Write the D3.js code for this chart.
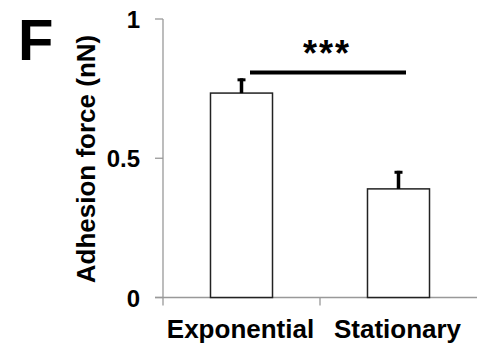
<!DOCTYPE html>
<html>
<head>
<meta charset="utf-8">
<script src="https://cdn.jsdelivr.net/npm/d3@7"></script>
<style>
  body { margin: 0; background: #fff; }
  text { font-family: Arial, "Liberation Sans", sans-serif; font-weight: bold; fill: #000; }
</style>
</head>
<body>
<div id="chart"></div>
<script>
var categories = ['Exponential', 'Stationary'];
var values = [0.734, 0.39];
var errors = [0.053, 0.065];
var yTicks = [0, 0.5, 1];
var yTickLabels = ['0', '0.5', '1'];

var width = 477, height = 347;
var margin = {top: 19, right: 0, bottom: 49, left: 163};

var svg = d3.select('#chart')
    .append('svg')
    .attr('width', width)
    .attr('height', height);

let x = d3.scaleBand()
    .domain(categories)
    .range([margin.left, 477])
    .paddingInner(0)
    .paddingOuter(0);

let y = d3.scaleLinear()
    .domain([0, 1])
    .range([height - margin.bottom - 0.5, margin.top]);

let barW = x.bandwidth() * 0.395;

// axes
svg.append('line')
    .attr('x1', margin.left).attr('x2', margin.left)
    .attr('y1', y(1)).attr('y2', y(0) + 8)
    .attr('stroke', '#999').attr('stroke-width', 1.3);

svg.selectAll('line.ytick')
    .data(yTicks)
    .enter()
    .append('line')
    .attr('class', 'ytick')
    .attr('x1', margin.left - 8).attr('x2', margin.left)
    .attr('y1', d => y(d)).attr('y2', d => y(d))
    .attr('stroke', '#999').attr('stroke-width', 1.3);

svg.append('line')
    .attr('x1', margin.left - 8).attr('x2', width)
    .attr('y1', y(0)).attr('y2', y(0))
    .attr('stroke', '#999').attr('stroke-width', 1.3);

svg.selectAll('line.xtick')
    .data(categories.slice(1))
    .enter()
    .append('line')
    .attr('class', 'xtick')
    .attr('x1', d => x(d)).attr('x2', d => x(d))
    .attr('y1', y(0)).attr('y2', y(0) + 8)
    .attr('stroke', '#999').attr('stroke-width', 1.3);

svg.selectAll('text.ylabel')
    .data(yTicks)
    .enter()
    .append('text')
    .attr('class', 'ylabel')
    .attr('x', 140)
    .attr('y', d => y(d) + 9)
    .style('text-anchor', 'end')
    .style('font-size', '24px')
    .text((d, i) => yTickLabels[i]);

svg.selectAll('text.xlabel')
    .data(categories)
    .enter()
    .append('text')
    .attr('class', 'xlabel')
    .attr('x', d => x(d) + x.bandwidth() / 2 - 1)
    .attr('y', 338)
    .style('text-anchor', 'middle')
    .style('font-size', '26px')
    .text(d => d);

// axis title
svg.append('text')
    .attr('transform', `translate(95, 159) rotate(-90)`)
    .style('text-anchor', 'middle')
    .style('font-size', '26px')
    .text('Adhesion force (nN)');

// panel letter
svg.append('text')
    .attr('x', 18)
    .attr('y', 60)
    .style('font-size', '58px')
    .text('F');

// bars
svg.selectAll('rect.bar')
    .data(values)
    .enter()
    .append('rect')
    .attr('class', 'bar')
    .attr('x', (d, i) => x(categories[i]) + (x.bandwidth() - barW) / 2)
    .attr('y', d => y(d))
    .attr('width', barW)
    .attr('height', d => y(0) - y(d))
    .attr('fill', '#fff')
    .attr('stroke', '#222')
    .attr('stroke-width', 1.5);

// error bars
svg.selectAll('line.err')
    .data(values)
    .enter()
    .append('line')
    .attr('class', 'err')
    .attr('x1', (d, i) => x(categories[i]) + x.bandwidth() / 2)
    .attr('x2', (d, i) => x(categories[i]) + x.bandwidth() / 2)
    .attr('y1', d => y(d))
    .attr('y2', (d, i) => y(d + errors[i]))
    .attr('stroke', '#000')
    .attr('stroke-width', 3.5);

svg.selectAll('line.cap')
    .data(values)
    .enter()
    .append('line')
    .attr('class', 'cap')
    .attr('x1', (d, i) => x(categories[i]) + x.bandwidth() / 2 - 4)
    .attr('x2', (d, i) => x(categories[i]) + x.bandwidth() / 2 + 4)
    .attr('y1', (d, i) => y(d + errors[i]) + 1.5)
    .attr('y2', (d, i) => y(d + errors[i]) + 1.5)
    .attr('stroke', '#000')
    .attr('stroke-width', 3);

// significance
let sigY = y(0.808);
svg.append('line')
    .attr('x1', 250).attr('x2', 406)
    .attr('y1', sigY).attr('y2', sigY)
    .attr('stroke', '#000')
    .attr('stroke-width', 4);

svg.append('text')
    .attr('x', 327)
    .attr('y', 66)
    .style('text-anchor', 'middle')
    .style('font-size', '36px')
    .style('letter-spacing', '2px')
    .text('***');
</script>
</body>
</html>
